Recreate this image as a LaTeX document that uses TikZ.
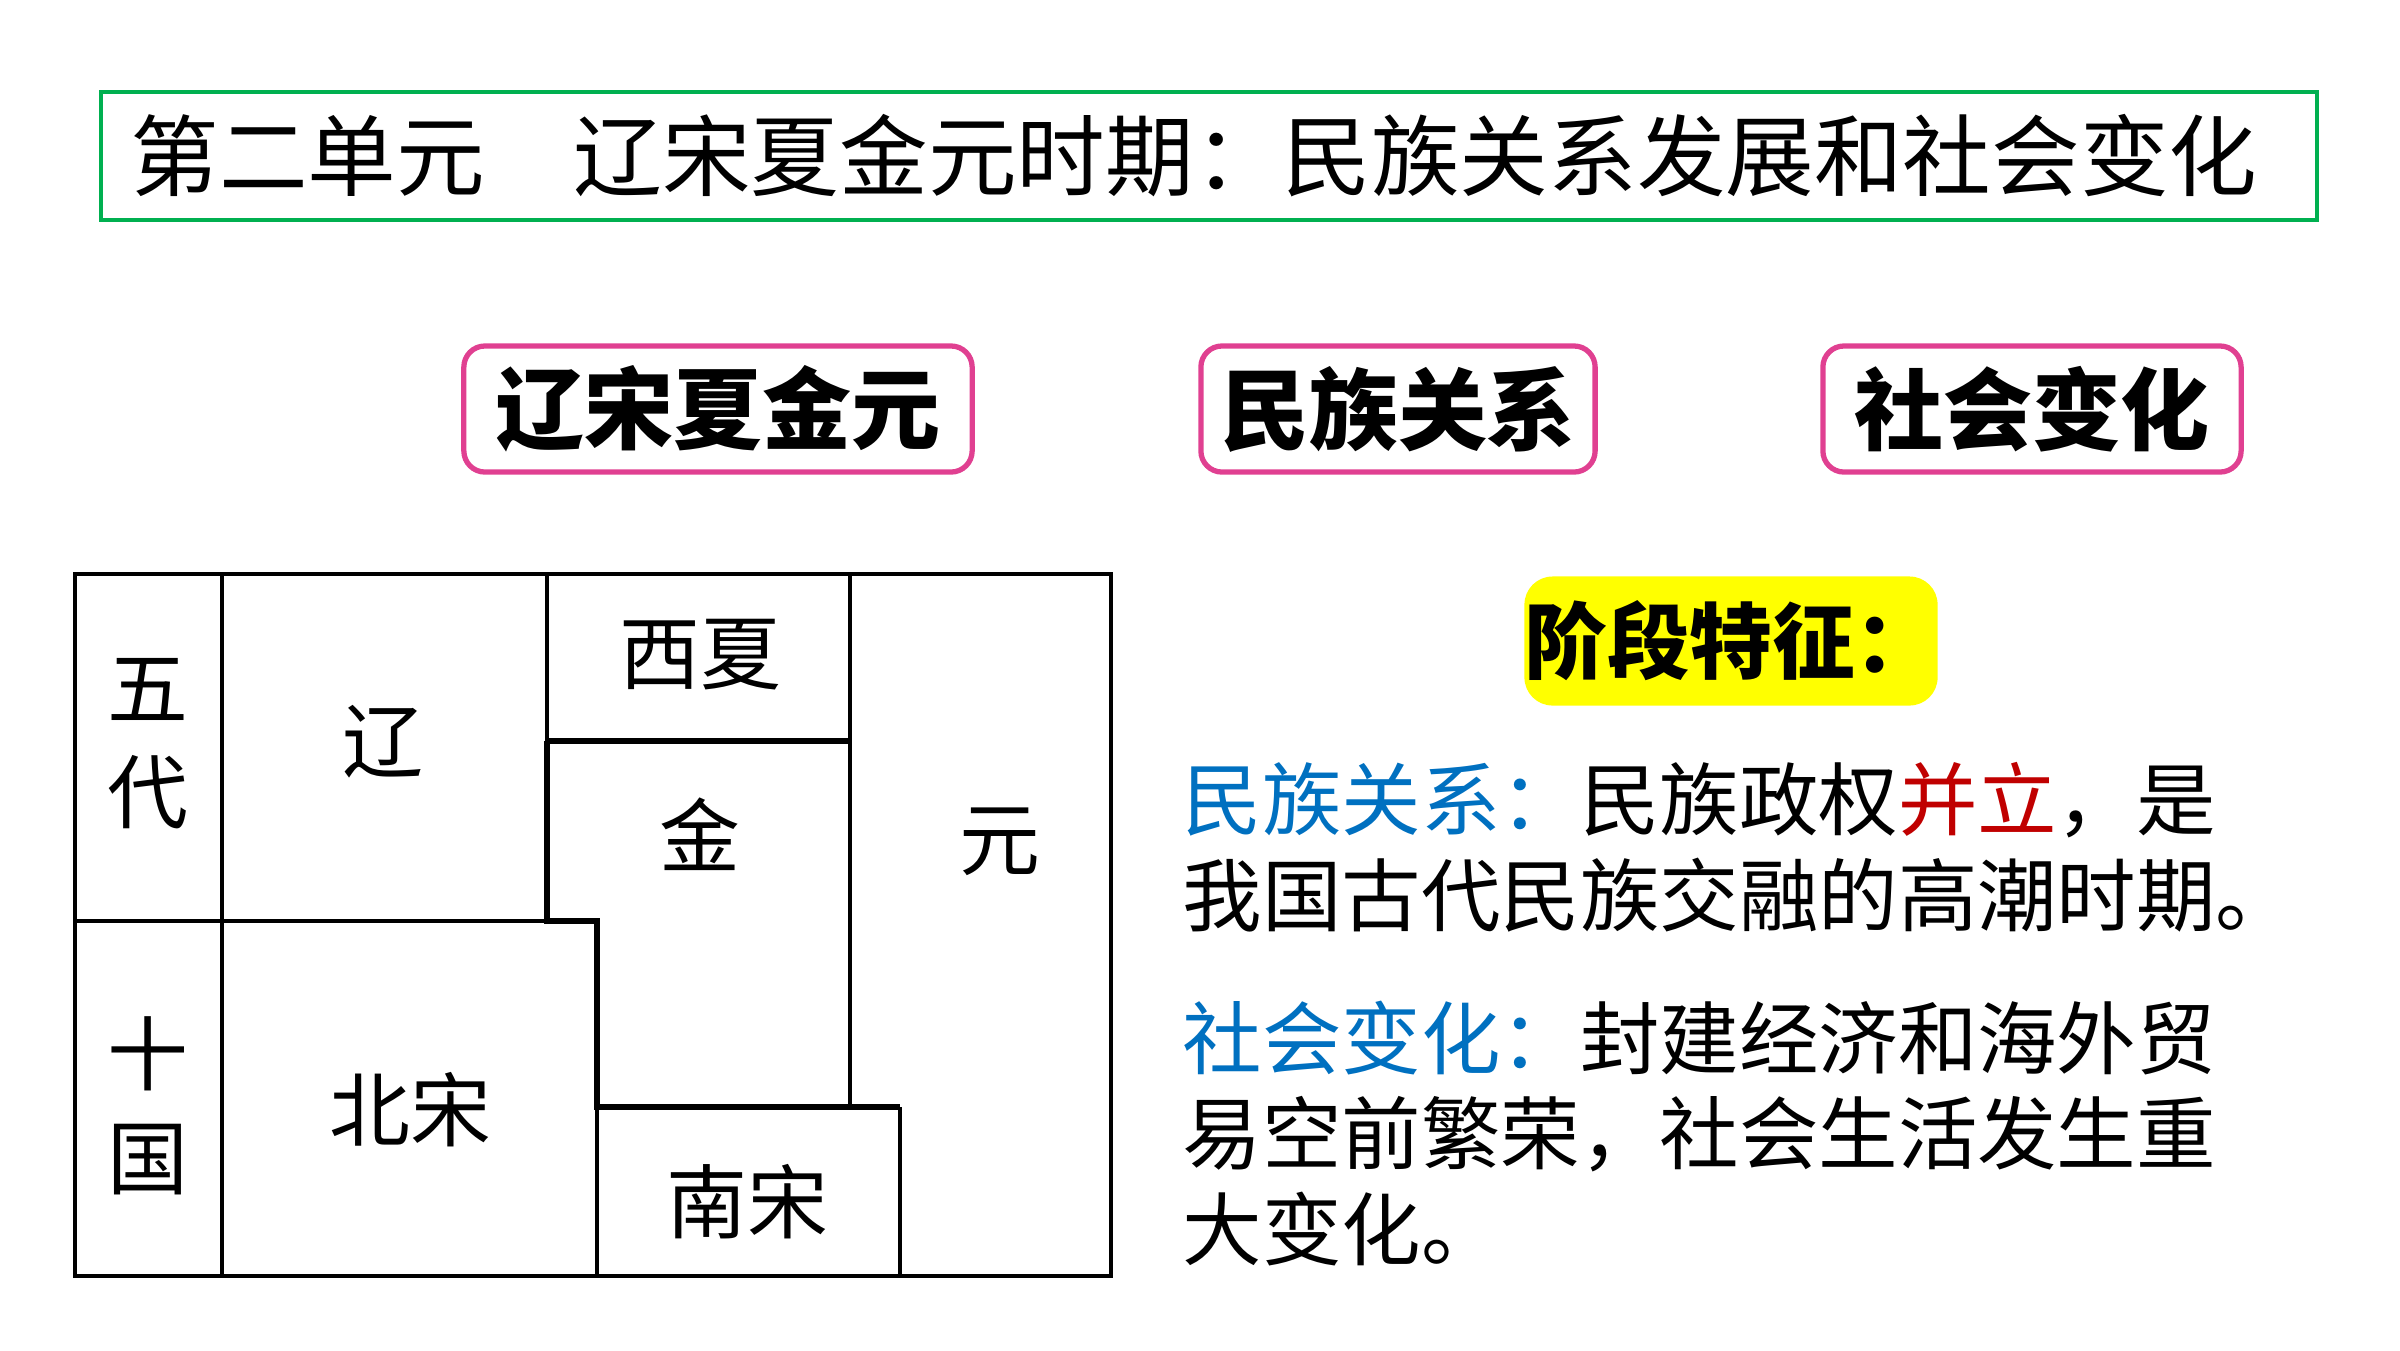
\documentclass[tikz,border=0pt]{standalone}
\usepackage{fontspec}
\setmainfont{Noto Sans CJK SC}
\usepackage{xcolor}
\usepackage{tikz}
\usetikzlibrary{positioning}
\definecolor{titlegreen}{RGB}{0, 176, 80}
\definecolor{tagpink}{RGB}{224, 64, 145}
\definecolor{keyblue}{RGB}{0, 112, 192}
\definecolor{keyred}{RGB}{192, 0, 0}
\definecolor{markyellow}{RGB}{255, 255, 0}

\begin{document}
\begin{tikzpicture}[
    x=0.01cm, y=-0.01cm,
    tag/.style={draw=tagpink, line width=1.5pt, rounded corners=6pt,
                minimum height=1.26cm, inner sep=0pt,
                font=\fontsize{25.3}{30}\selectfont\bfseries},
    cell/.style={inner sep=0pt, align=center, font=\fontsize{23}{29.6}\selectfont},
    grid/.style={line width=1pt},
    gridthick/.style={line width=1.6pt},
    para/.style={anchor=north west, inner sep=0pt, align=left,
                 font=\fontsize{22.6}{27.2}\selectfont}
]
    \useasboundingbox (0,0) rectangle (2400,1350);

    % title
    \draw[titlegreen, line width=1.2pt] (101,92) rectangle (2317,220);
    \node[inner sep=0pt, font=\fontsize{25.2}{30}\selectfont] (title) at (1194,156)
        {第二单元　辽宋夏金元时期：民族关系发展和社会变化};

    % three tags
    \node[tag, minimum width=5.08cm] (tagdyn) at (718,409) {辽宋夏金元};
    \node[tag, minimum width=3.94cm] (tagrel) at (1398,409) {民族关系};
    \node[tag, minimum width=4.18cm] (tagsoc) at (2032,409) {社会变化};

    % dynasty table
    \draw[grid] (75,574) rectangle (1111,1276);
    \draw[grid] (222,574) -- (222,1276);
    \draw[grid] (75,921) -- (547,921);
    \draw[grid] (547,574) -- (547,741);
    \draw[grid] (850,574) -- (850,1107);
    \draw[gridthick] (547,741) -- (850,741);
    \draw[gridthick] (547,741) -- (547,921) -- (597,921) -- (597,1107) -- (900,1107);
    \draw[grid] (597,1107) -- (597,1276);
    \draw[grid] (900,1107) -- (900,1276);

    \node[cell] (wudai) at (148,744) {五\\代};
    \node[cell] (shiguo) at (148,1106) {十\\国};
    \node[cell] (liao) at (383,742) {辽};
    \node[cell] (xixia) at (700,655) {西夏};
    \node[cell] (jin) at (700,834) {金};
    \node[cell] (yuan) at (1000,842) {元};
    \node[cell] (beisong) at (410,1110) {北宋};
    \node[cell] (nansong) at (747,1202) {南宋};

    % stage features
    \node[fill=markyellow, rounded corners=8pt, minimum width=4.1cm,
          minimum height=1.29cm, inner sep=0pt,
          font=\fontsize{23.5}{30}\selectfont\bfseries] (stage) at (1731,641)
        {阶段特征：};

    \node[para] (relpara) at (1182,762)
        {{\color{keyblue}民族关系：}民族政权{\color{keyred}并立}，是\\
         我国古代民族交融的高潮时期。};
    \node[para] (socpara) at (1182,1000)
        {{\color{keyblue}社会变化：}封建经济和海外贸\\
         易空前繁荣，社会生活发生重\\
         大变化。};
\end{tikzpicture}
\end{document}
